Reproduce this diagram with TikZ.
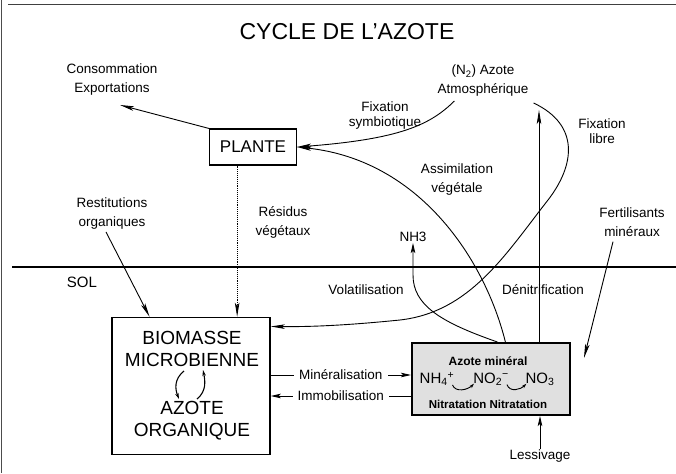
\documentclass[tikz,border=0pt]{standalone}
\usepackage{fontspec}
\setmainfont{Liberation Sans}
\usetikzlibrary{calc,arrows.meta}

\begin{document}
\begin{tikzpicture}[x=1pt, y=-1pt,
    lbl/.style={align=center, inner sep=1pt, font=\fontsize{13.5}{19}\selectfont},
    lbltight/.style={lbl, font=\fontsize{13.5}{15}\selectfont},
    plantbox/.style={rectangle, draw, line width=1.1pt, minimum width=87pt,
                     minimum height=36pt, font=\fontsize{17}{20}\selectfont},
    biobox/.style={rectangle, draw, line width=1.4pt, minimum width=158pt, minimum height=137pt},
    minbox/.style={rectangle, draw, line width=2pt, fill=black!12,
                   minimum width=158pt, minimum height=72pt},
    bigtxt/.style={align=center, inner sep=0pt, font=\fontsize{19}{22}\selectfont},
    spec/.style={inner sep=1pt, font=\fontsize{15}{17}\selectfont},
    arrow/.style={-{Stealth[length=14pt, width=4.5pt, inset=3pt]}, line width=0.9pt},
    shortarrow/.style={-{Stealth[length=10pt, width=4.5pt, inset=2pt]}, line width=0.9pt},
    cycarrow/.style={-{Stealth[length=6pt, width=3.5pt]}, line width=1.1pt},
    smallarrow/.style={-{Stealth[length=5pt, width=3pt]}, line width=0.9pt}
]
\useasboundingbox (0,0) rectangle (676,473);

\draw[line width=1pt, black!75] (8,5) -- (676,5);
\draw[line width=1pt, black!70] (1,0) -- (1,473);
\draw[line width=2.2pt] (12,267) -- (676,267);

\node[font=\fontsize{23}{26}\selectfont] (title) at (347,32) {CYCLE DE L'AZOTE};

\node[lbl] (conso) at (112,80) {Consommation\\Exportations};
\node[lbl] (atmos) at (483,81) {(N\textsubscript{2}) Azote\\Atmosphérique};
\node[plantbox] (plante) at (253,147) {PLANTE};
\node[lbltight] (fixsym) at (385,116) {Fixation\\symbiotique};
\node[lbltight] (fixlib) at (602,131) {Fixation\\libre};
\node[lbl] (assim) at (457,180) {Assimilation\\végétale};
\node[lbl] (restit) at (112,214) {Restitutions\\organiques};
\node[lbl] (resid) at (283,222) {Résidus\\végétaux};
\node[lbl] (fert) at (632,222) {Fertilisants\\minéraux};
\node[lbl] (nh3) at (413,237) {NH3};
\node[font=\fontsize{15}{18}\selectfont] (sol) at (82,282) {SOL};
\node[lbl] (volat) at (366,290) {Volatilisation};
\node[lbl] (denit) at (543,290) {Dénitrification};

\node[biobox] (bio) at (191,386) {};
\node[bigtxt] (biomasse) at (192,349) {BIOMASSE\\MICROBIENNE};
\node[bigtxt] (azorg) at (192,421) {AZOTE\\ORGANIQUE};
\coordinate (bioc) at (191,385);
\draw[cycarrow] ($(bioc)+(-7,-14)$) .. controls +(-10,8) and +(-4,-10) .. ($(bioc)+(-12,14)$);
\draw[cycarrow] ($(bioc)+(6,14)$) .. controls +(10,-8) and +(2,10) .. ($(bioc)+(12,-15)$);

\node[minbox] (mineral) at (491,379) {};
\node[font=\bfseries\fontsize{12}{14}\selectfont] (azmin) at (488,361) {Azote minéral};
\node[spec] (nh4) at (437,379) {NH\textsubscript{4}\textsuperscript{+}};
\node[spec] (no2) at (491,379) {NO\textsubscript{2}\textsuperscript{−}};
\node[spec] (no3) at (540,379) {NO\textsubscript{3}};
\node[font=\bfseries\fontsize{11.5}{13}\selectfont] (nitra) at (488,404) {Nitratation Nitratation};
\draw[smallarrow] ($(nh4.south east)+(-3,-2)$) .. controls +(3,8) and +(-6,6) .. ($(no2.south west)+(2,-3)$);
\draw[smallarrow] ($(no2.south east)+(-3,-2)$) .. controls +(3,8) and +(-6,6) .. ($(no3.south west)+(2,-3)$);

\node[lbl] (lessiv) at (540,456) {Lessivage};

\coordinate (denitop) at ($(mineral.north west)!0.8!(mineral.north east)$);
\coordinate (denitip) at ($(atmos.south)+(0,12)$);
\coordinate (residtop) at ($(plante.south west)!0.32!(plante.south east)$);

\draw[arrow] (plante.north west) -- ($(conso.south)+(8,8)$);
\draw[arrow] ($(atmos.south west)+(18,3)$) .. controls (430,125) and (400,139) .. (plante.east);
\draw[arrow] ($(mineral.north west)!0.59!(mineral.north east)$) .. controls (485,260) and (420,160) .. (plante.east);
\draw[arrow] ($(atmos.south east)+(4,5)$) .. controls (580,125) and (575,165) .. (548,200)
    .. controls (505,255) and (470,312) .. (400,320)
    .. controls (360,324) and (320,327) .. ($(bio.north east)!0.07!(bio.south east)$);
\draw[shortarrow] ($(mineral.north west)!0.54!(mineral.north east)$) .. controls (440,322) and (413,305) .. (nh3.south |- 0,275) -- (nh3.south);
\draw[arrow] (denitop) -- (denitop |- denitip);
\draw[arrow] ($(fert.south)+(-19,4)$) -- ($(mineral.east)+(13,-21)$);
\draw[arrow] ($(restit.south)+(-6,1)$) -- ($(bio.north west)!0.24!(bio.north east)$);
\draw[arrow, densely dotted] (residtop) -- (residtop |- bio.north);
\draw[shortarrow] ([yshift=11pt]bio.east) -- ([yshift=11pt]bio.east -| mineral.west)
    node[midway, lbl, fill=white, inner xsep=5pt] {Minéralisation};
\draw[shortarrow] ([yshift=-10pt]bio.east -| mineral.west) -- ([yshift=-10pt]bio.east)
    node[midway, lbl, fill=white, inner xsep=5pt] {Immobilisation};
\draw[shortarrow] (lessiv.north) -- (lessiv.north |- mineral.south);

\end{tikzpicture}
\end{document}
